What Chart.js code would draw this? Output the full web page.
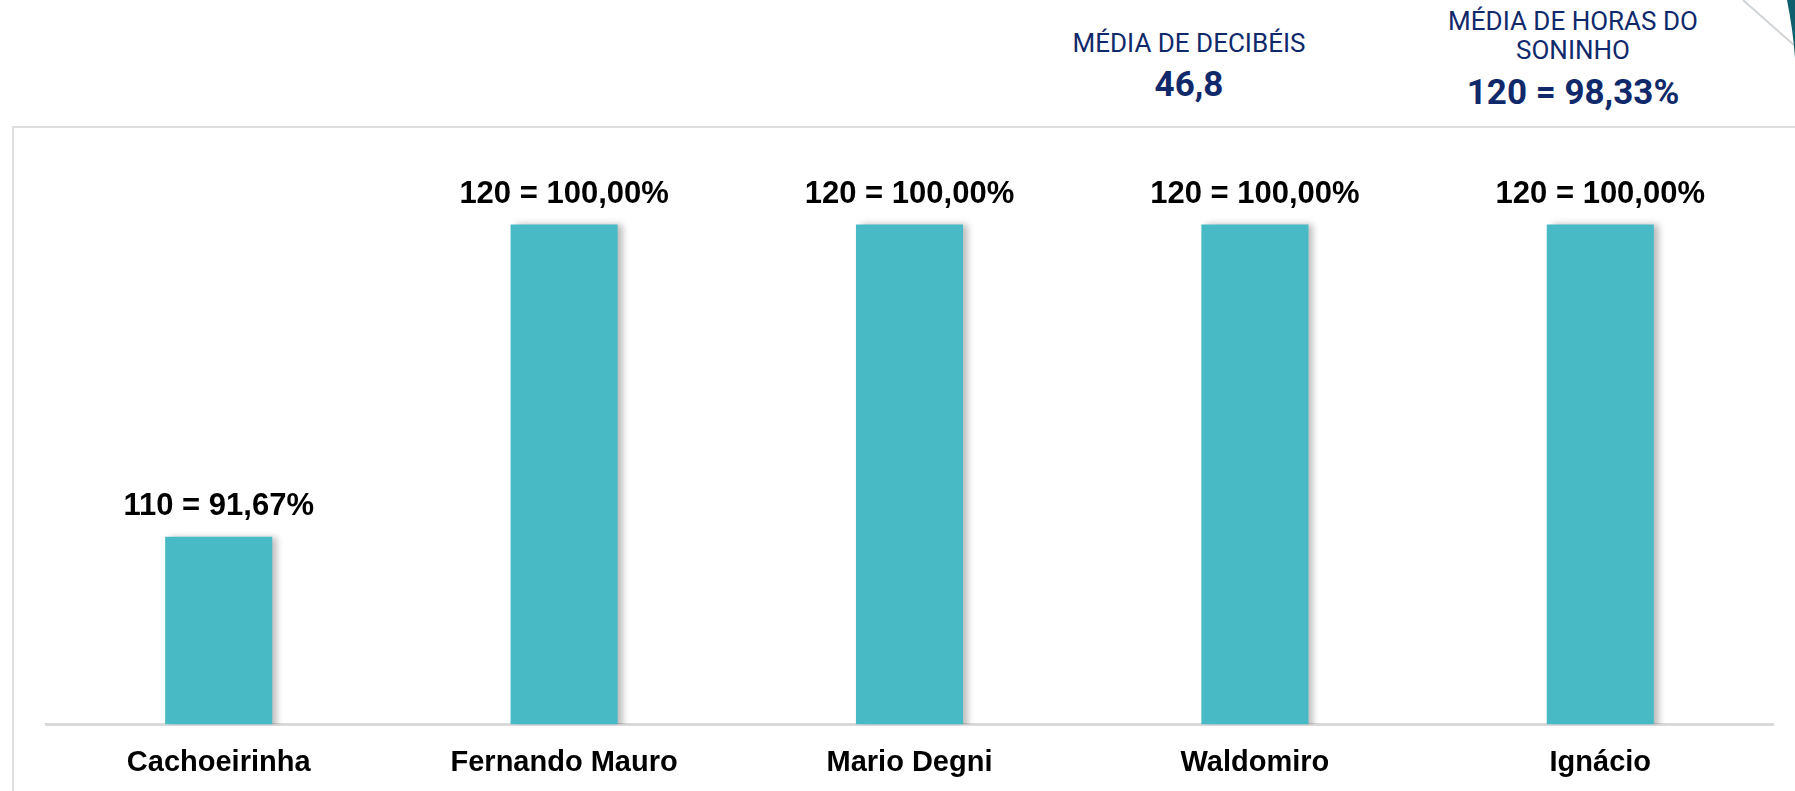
<!DOCTYPE html>
<html>
<head>
<meta charset="utf-8">
<script src="https://cdn.jsdelivr.net/npm/chart.js@4.4.1/dist/chart.umd.min.js"></script>
<style>
  html, body { margin:0; padding:0; background:#fff; width:1795px; height:791px; overflow:hidden; }
  #box { position:absolute; left:12px; top:126px; width:2000px; height:1000px; border:2px solid #dedede; box-sizing:border-box; }
  #wrap { position:absolute; left:0; top:0; width:1795px; height:791px; }
  .hdr { position:absolute; font-family: Roboto, "Noto Sans", sans-serif; color:#10296b; text-align:center; width:300px; }
  .sub { font-size:26px; line-height:29px; }
  .big { font-size:35px; font-weight:bold; line-height:40px; }
  #deco { position:absolute; right:0; top:0; }
</style>
</head>
<body>
<div id="box"></div>
<div class="hdr" style="left:1039px; top:29px;">
  <div class="sub" id="h1t"></div>
  <div class="big" id="h1v" style="margin-top:7px;"></div>
</div>
<div class="hdr" style="left:1423px; top:7px;">
  <div class="sub" id="h2t"></div>
  <div class="big" id="h2v" style="margin-top:8px;"></div>
</div>
<svg id="deco" width="80" height="80">
  <line x1="28" y1="0" x2="80" y2="46" stroke="#cfd3d6" stroke-width="2"/>
  <path d="M72,0 Q78,30 80,58 L80,0 Z" fill="#0f5f6e"/>
</svg>
<div id="wrap"><canvas id="c" width="1795" height="791"></canvas></div>
<script>
const categories = ["Cachoeirinha", "Fernando Mauro", "Mario Degni", "Waldomiro", "Ignácio"];
const values = [110, 120, 120, 120, 120];
const percents = ["91,67%", "100,00%", "100,00%", "100,00%", "100,00%"];
const header1Title = "MÉDIA DE DECIBÉIS";
const header1Value = "46,8";
const header2Title = ["MÉDIA DE HORAS DO", "SONINHO"];
const header2Value = "120 = 98,33%";

document.getElementById('h1t').textContent = header1Title;
document.getElementById('h1v').textContent = header1Value;
document.getElementById('h2t').innerHTML = header2Title.join('<br>');
document.getElementById('h2v').textContent = header2Value;

const shadowPlugin = {
  id: 'barShadow',
  beforeDatasetsDraw(chart) {
    const ctx = chart.ctx;
    ctx.save();
    ctx.shadowColor = 'rgba(0,0,0,0.28)';
    ctx.shadowOffsetX = 5;
    ctx.shadowOffsetY = 0;
    ctx.shadowBlur = 7;
  },
  afterDatasetsDraw(chart) {
    chart.ctx.restore();
  }
};

const labelPlugin = {
  id: 'valueLabels',
  afterDatasetsDraw(chart) {
    const ctx = chart.ctx;
    const meta = chart.getDatasetMeta(0);
    ctx.save();
    ctx.font = 'bold 31px "Liberation Sans", Arial, sans-serif';
    ctx.fillStyle = '#000';
    ctx.textAlign = 'center';
    ctx.textBaseline = 'middle';
    meta.data.forEach((bar, i) => {
      ctx.fillText(values[i] + ' = ' + percents[i], bar.x, bar.y - 30);
    });
    ctx.restore();
  }
};

new Chart(document.getElementById('c'), {
  type: 'bar',
  data: {
    labels: categories,
    datasets: [{
      data: values,
      backgroundColor: '#47bac6',
      borderWidth: 0,
      categoryPercentage: 1.0,
      barPercentage: 0.31
    }]
  },
  options: {
    responsive: false,
    animation: false,
    events: [],
    layout: { padding: { left: 46, right: 22, top: 162, bottom: -10 } },
    plugins: { legend: { display: false }, tooltip: { enabled: false }, title: { display: false } },
    scales: {
      x: {
        grid: { display: false, drawTicks: false },
        border: { display: true, color: '#d9d9d9', width: 3 },
        ticks: {
          color: '#000',
          padding: 21,
          font: { family: '"Liberation Sans", Arial, sans-serif', size: 29, weight: 'bold', lineHeight: 1.2 }
        }
      },
      y: {
        display: false,
        min: 104,
        max: 122
      }
    }
  },
  plugins: [shadowPlugin, labelPlugin]
});
</script>
</body>
</html>
